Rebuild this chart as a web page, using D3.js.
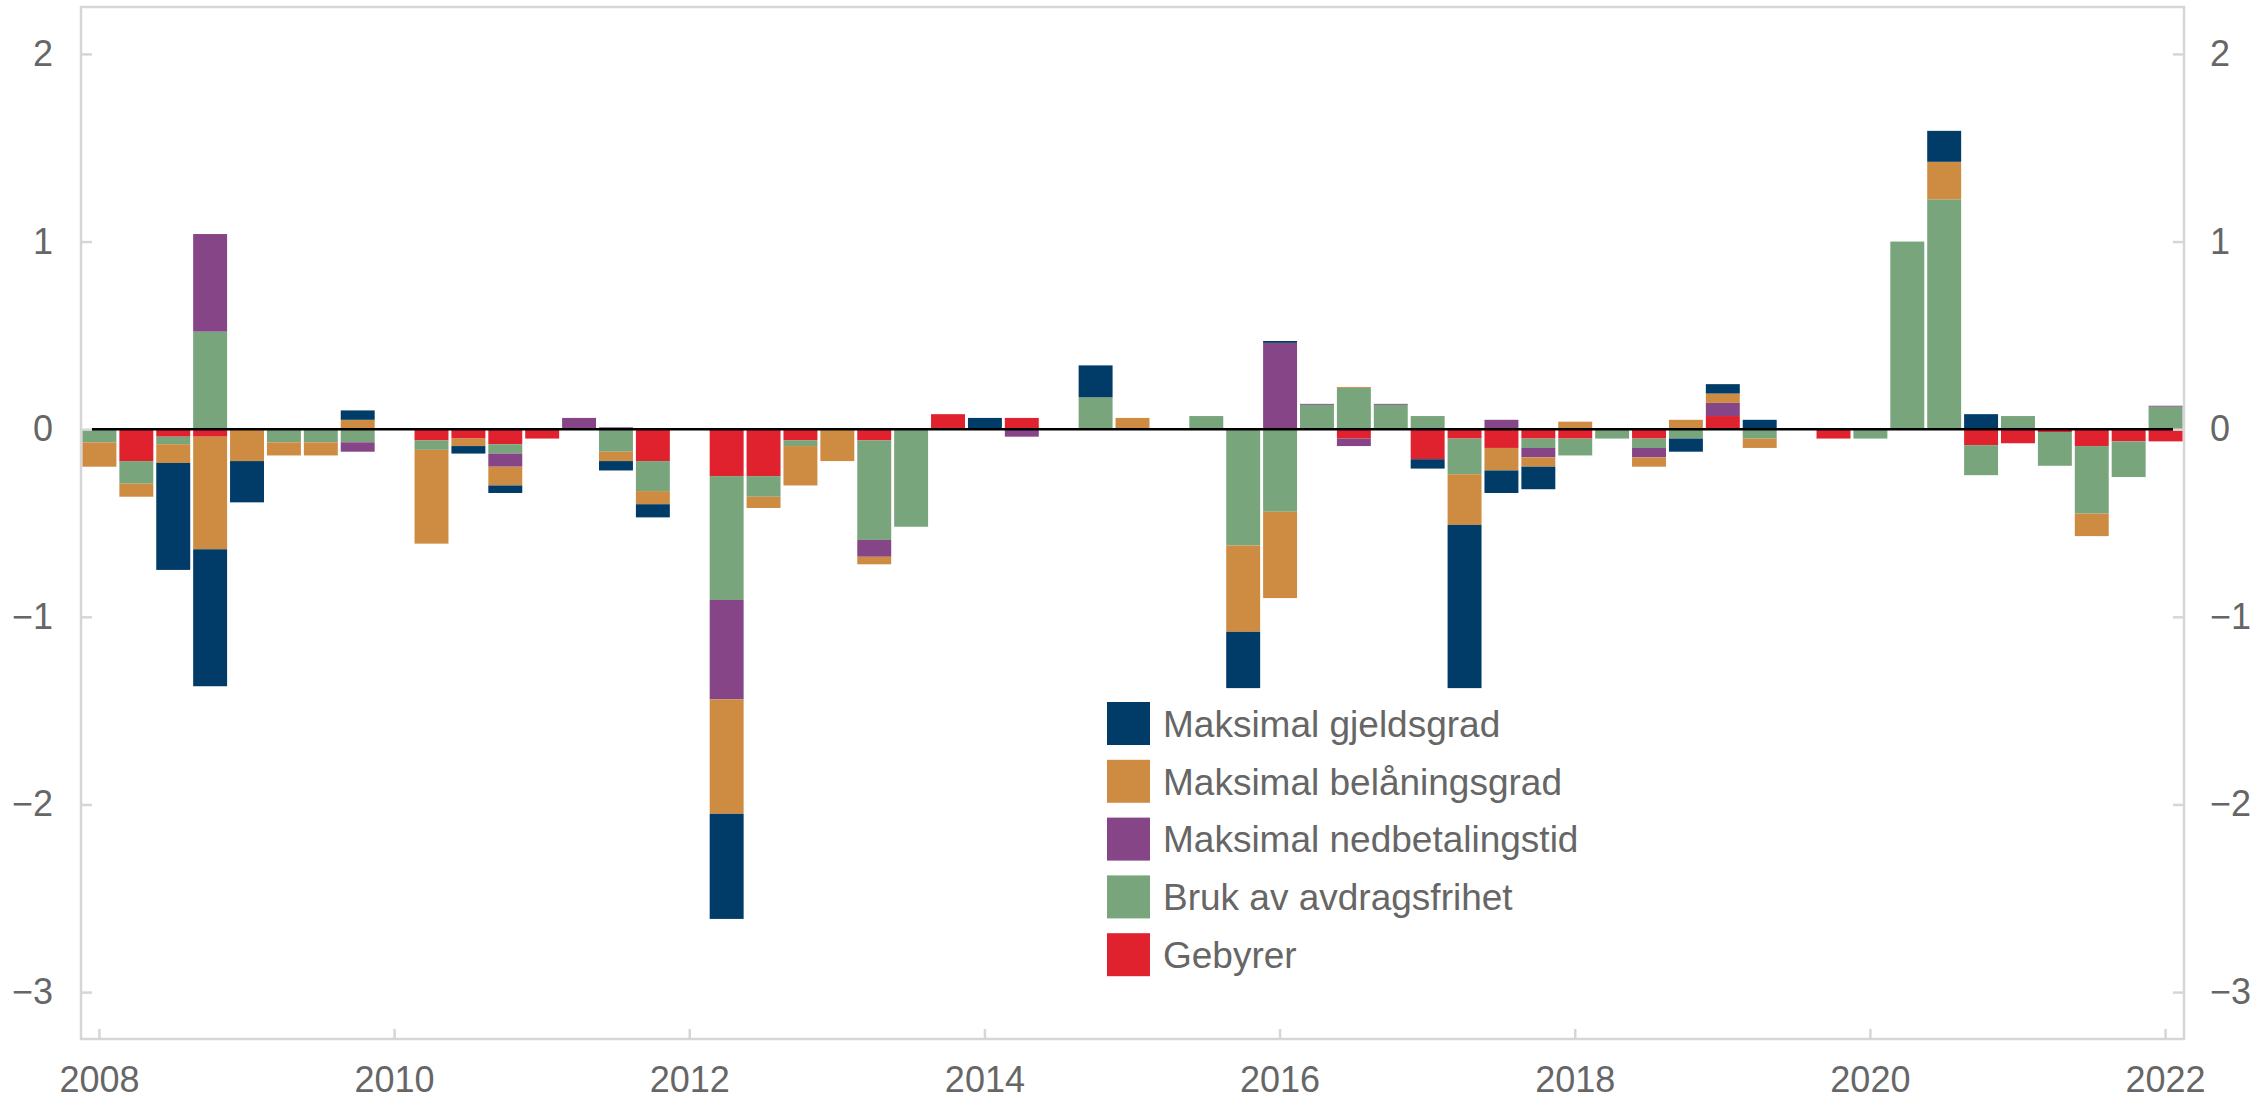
<!DOCTYPE html>
<html>
<head>
<meta charset="utf-8">
<script src="https://cdn.jsdelivr.net/npm/d3@7"></script>
<style>
  body { margin: 0; background: #fff; }
  svg text { font-family: "Liberation Sans", Arial, sans-serif; fill: #666; }
</style>
</head>
<body>
<svg id="chart" width="2255" height="1100"></svg>
<script>
// quarters 2008K1 - 2022K1
const quarters = [
  '2008K1', '2008K2', '2008K3', '2008K4', '2009K1', '2009K2', '2009K3', '2009K4',
  '2010K1', '2010K2', '2010K3', '2010K4', '2011K1', '2011K2', '2011K3', '2011K4',
  '2012K1', '2012K2', '2012K3', '2012K4', '2013K1', '2013K2', '2013K3', '2013K4',
  '2014K1', '2014K2', '2014K3', '2014K4', '2015K1', '2015K2', '2015K3', '2015K4',
  '2016K1', '2016K2', '2016K3', '2016K4', '2017K1', '2017K2', '2017K3', '2017K4',
  '2018K1', '2018K2', '2018K3', '2018K4', '2019K1', '2019K2', '2019K3', '2019K4',
  '2020K1', '2020K2', '2020K3', '2020K4', '2021K1', '2021K2', '2021K3', '2021K4',
  '2022K1'
]

const gjeldsgrad = [
  0, 0, -0.57, -0.73, -0.22, 0, 0, 0.05,
  0, 0, -0.04, -0.04, 0, 0, -0.05, -0.07,
  0, -0.56, 0, 0, 0, 0, 0, 0,
  0.06, 0, 0, 0.17, 0, 0, 0, -0.30,
  0.01, 0, 0, 0, -0.05, -0.87, -0.12, -0.12,
  0, 0, 0, -0.07, 0.05, 0.05, 0, 0,
  0, 0, 0.165, 0.08, 0, 0, 0, 0,
  0
]
const belaningsgrad = [
  -0.13, -0.07, -0.10, -0.60, -0.17, -0.07, -0.07, 0.05,
  0, -0.50, -0.04, -0.10, 0, 0, -0.05, -0.07,
  0, -0.61, -0.06, -0.21, -0.17, -0.04, 0, 0,
  0, 0, 0, 0, 0.06, 0, 0, -0.46,
  -0.46, 0, 0.005, 0, 0, -0.27, -0.12, -0.05,
  0.04, 0, -0.05, 0.05, 0.05, -0.05, 0, 0,
  0, 0, 0.20, 0, 0, 0, -0.12, 0,
  0
]
const nedbetalingstid = [
  0, 0, 0, 0.52, 0, 0, 0, -0.05,
  0, 0, 0, -0.07, 0, 0.06, 0.01, 0,
  0, -0.53, 0, 0, 0, -0.09, 0, 0,
  0, -0.04, 0, 0, 0, 0, 0, 0,
  0.46, 0.005, -0.04, 0.005, 0, 0, 0.05, -0.05,
  0, 0, -0.05, 0, 0.07, 0, 0, 0,
  0, 0, 0, 0, 0, 0, 0, 0,
  0.005
]
const avdragsfrihet = [
  -0.07, -0.12, -0.04, 0.52, 0, -0.07, -0.07, -0.07,
  0, -0.05, 0, -0.05, 0, 0, -0.12, -0.16,
  0, -0.66, -0.11, -0.03, 0, -0.53, -0.52, 0,
  0, 0, 0, 0.17, 0, 0, 0.07, -0.62,
  -0.44, 0.13, 0.22, 0.13, 0.07, -0.19, 0, -0.05,
  -0.09, -0.05, -0.05, -0.05, 0, -0.05, 0, 0,
  -0.05, 1.0, 1.225, -0.16, 0.07, -0.18, -0.36, -0.19,
  0.12
]
const gebyrer = [
  0, -0.17, -0.04, -0.04, 0, 0, 0, 0,
  0, -0.06, -0.05, -0.08, -0.05, 0, 0, -0.17,
  0, -0.25, -0.25, -0.06, 0, -0.06, 0, 0.08,
  0, 0.06, 0, 0, 0, 0, 0, 0,
  0, 0, -0.05, 0, -0.16, -0.05, -0.10, -0.05,
  -0.05, 0, -0.05, 0, 0.07, 0, 0, -0.05,
  0, 0, 0, -0.085, -0.075, -0.015, -0.09, -0.065,
  -0.065
]

const seriesNames = [
  'Maksimal gjeldsgrad',
  'Maksimal belåningsgrad',
  'Maksimal nedbetalingstid',
  'Bruk av avdragsfrihet',
  'Gebyrer'
]
const seriesColors = ['#013c68', '#ce8c43', '#864586', '#79a57c', '#df222e']
const seriesValues = [gjeldsgrad, belaningsgrad, nedbetalingstid, avdragsfrihet, gebyrer]

const yTicks = [-3, -2, -1, 0, 1, 2]
const yearTicks = ['2008', '2010', '2012', '2014', '2016', '2018', '2020', '2022']

const width = 2255
const height = 1100
const plot = { left: 81, right: 2184, top: 7, bottom: 1039 }
const gridColor = '#d6d6d6'

const svg = d3.select('#chart')

const rows = quarters.map((q, i) => {
  const r = { q }
  seriesNames.forEach((name, s) => { r[name] = seriesValues[s][i] })
  return r
})

// stack from zero outwards: Gebyrer nearest, gjeldsgrad outermost
const stackKeys = seriesNames.slice().reverse()
const stacked = d3.stack()
  .keys(stackKeys)
  .offset(d3.stackOffsetDiverging)(rows)

const x = d3.scaleBand()
  .domain(quarters)
  .range([plot.left, plot.right])
  .paddingInner(0.08)
  .paddingOuter(0.04)

const y = d3.scaleLinear()
  .domain([-3.25, 2.25])
  .range([plot.bottom, plot.top])

const color = d3.scaleOrdinal().domain(seriesNames).range(seriesColors)

// frame
svg.append('rect')
  .attr('x', plot.left)
  .attr('y', plot.top)
  .attr('width', plot.right - plot.left)
  .attr('height', plot.bottom - plot.top)
  .attr('fill', 'none')
  .attr('stroke', gridColor)
  .attr('stroke-width', 2.5)

// bars
svg.append('g')
  .selectAll('g')
  .data(stacked)
  .enter().append('g')
  .attr('fill', (d) => color(d.key))
  .selectAll('rect')
  .data((d) => d)
  .enter().append('rect')
  .attr('x', (d) => x(d.data.q))
  .attr('width', x.bandwidth())
  .attr('y', (d) => y(Math.max(d[0], d[1])))
  .attr('height', (d) => Math.abs(y(d[0]) - y(d[1])))

// axes
const fmt = (d) => d3.format('d')(d).replace('-', '\u2212')

const styleAxis = (g, size) => {
  g.select('.domain').remove()
  g.selectAll('.tick line').attr('stroke', gridColor).attr('stroke-width', 2.5)
  g.selectAll('.tick text')
    .style('font-size', size + 'px')
    .attr('fill', '#666')
}

svg.append('g')
  .attr('transform', `translate(${plot.left},0)`)
  .call(d3.axisLeft(y).tickValues(yTicks).tickFormat(fmt).tickSize(-11).tickPadding(28))
  .call((g) => styleAxis(g, 36))

svg.append('g')
  .attr('transform', `translate(${plot.right},0)`)
  .call(d3.axisRight(y).tickValues(yTicks).tickFormat(fmt).tickSize(-11).tickPadding(26))
  .call((g) => styleAxis(g, 36))

svg.append('g')
  .attr('transform', `translate(0,${plot.bottom})`)
  .call(d3.axisBottom(x)
    .tickValues(yearTicks.map((yr) => yr + 'K1'))
    .tickFormat((d) => d.slice(0, 4))
    .tickSize(-10)
    .tickPadding(27))
  .call((g) => styleAxis(g, 36))

// zero line
svg.append('line')
  .attr('x1', plot.left + 11)
  .attr('x2', plot.right - 11)
  .attr('y1', y(0))
  .attr('y2', y(0))
  .attr('stroke', '#000')
  .attr('stroke-width', 2.5)

// legend
const legend = svg.append('g')
  .attr('transform', 'translate(1107,702)')

const item = legend.selectAll('g')
  .data(seriesNames)
  .enter().append('g')
  .attr('transform', (d, i) => `translate(0,${i * 57.8})`)

item.append('rect')
  .attr('width', 43)
  .attr('height', 43)
  .attr('fill', (d) => color(d))

item.append('text')
  .attr('x', 56)
  .attr('y', 21.5)
  .attr('dy', '0.36em')
  .style('font-size', '37px')
  .text((d) => d)
</script>
</body>
</html>
